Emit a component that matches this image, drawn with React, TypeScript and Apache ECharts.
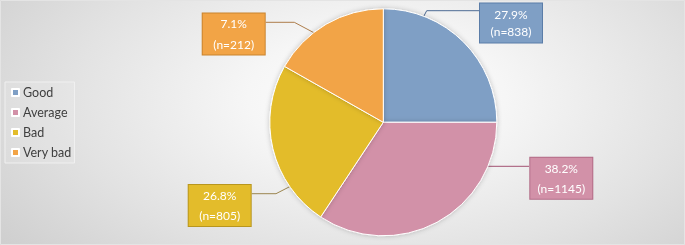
import { useEffect, useRef } from 'react';
import * as echarts from 'echarts';

const categories = ['Good', 'Average', 'Bad', 'Very bad'];
// slice shares as drawn in the picture (degrees)
const sliceShares = [25.0, 34.3, 23.9, 16.8];
const percentLabels = ['27.9%', '38.2%', '26.8%', '7.1%'];
const counts = [838, 1145, 805, 212];

const sliceColors = ['#7F9FC5', '#D291A8', '#E3BC2B', '#F2A446'];
const boxBorders = ['#5B7DA8', '#B26B86', '#B8961E', '#C9842F'];
const lineColors = ['#4E6C94', '#A35272', '#9C8650', '#AE7E4C'];
const labelCenters: number[][] = [
  [511, 23],
  [561.3, 178.3],
  [219.7, 205.5],
  [233.7, 34],
];
const leaderPoints: number[][][] = [
  [[415.7, 31.7], [426.7, 10.7], [479, 10.7]],
  [[472.3, 166.3], [500, 166.3], [529, 166.3]],
  [[306, 178.3], [276, 193.7], [251.7, 193.7]],
  [[323.3, 37.7], [294.3, 22.3], [265.7, 22.3]],
];

export default function App() {
  const ref = useRef<HTMLDivElement>(null);
  useEffect(() => {
    if (!ref.current) return;
    const chart = echarts.init(ref.current, undefined, { renderer: 'svg' });
    const font = 'Lato, "Open Sans", sans-serif';
    chart.setOption({
      animation: false,
      backgroundColor: 'transparent',
      legend: {
        orient: 'vertical',
        left: 5,
        top: 82,
        data: categories,
        icon: 'rect',
        itemWidth: 7,
        itemHeight: 7,
        itemGap: 7,
        padding: [4, 3, 4, 6],
        backgroundColor: 'rgba(255,255,255,0.12)',
        borderColor: '#f0f0f0',
        borderWidth: 1,
        textStyle: { color: '#404040', fontSize: 12.5, fontFamily: font, padding: [0, 0, 0, -1] },
        selectedMode: false,
      },
      graphic: [
        {
          type: 'rect',
          shape: { x: 0.5, y: 0.5, width: 684, height: 244 },
          style: { fill: 'none', stroke: '#e4e4e4', lineWidth: 1 },
          silent: true,
        },
      ],
      series: [
        {
          type: 'pie',
          center: [383.3, 122.3],
          radius: 113.5,
          startAngle: 90,
          clockwise: true,
          avoidLabelOverlap: false,
          emphasis: { disabled: true },
          itemStyle: {
            borderColor: '#ffffff',
            borderWidth: 1,
            shadowBlur: 5,
            shadowColor: 'rgba(0,0,0,0.22)',
          },
          label: {
            show: true,
            position: 'outside',
            color: '#ffffff',
            fontFamily: font,
            fontSize: 12,
            lineHeight: 20,
            width: 62,
            align: 'center',
            borderWidth: 1,
            padding: [0, 0],
          },
          labelLine: { show: true, length: 10, length2: 10, lineStyle: { width: 1 } },
          labelLayout: (params: any) => {
            const i = params.dataIndex;
            return {
              x: labelCenters[i][0],
              y: labelCenters[i][1],
              align: 'center',
              verticalAlign: 'middle',
              labelLinePoints: leaderPoints[i],
            };
          },
          data: categories.map((name, i) => ({
            name,
            value: sliceShares[i],
            itemStyle: { color: sliceColors[i] },
            label: {
              formatter: `${percentLabels[i]}\n(n=${counts[i]})`,
              backgroundColor: sliceColors[i],
              borderColor: boxBorders[i],
              lineHeight: i === 0 ? 17.5 : 20.5,
              padding: i === 0 ? [2, 0] : [0, 0],
            },
            labelLine: { lineStyle: { color: lineColors[i] } },
          })),
        },
      ],
    });
    return () => chart.dispose();
  }, []);
  return (
    <div
      ref={ref}
      style={{
        position: 'fixed',
        left: 0,
        top: 0,
        width: 685,
        height: 245,
        background:
          'radial-gradient(ellipse 75% 110% at 55% 40%, #ffffff 0%, #f6f6f6 25%, #e2e2e2 60%, #c9c9c9 100%)',
      }}
    />
  );
}
